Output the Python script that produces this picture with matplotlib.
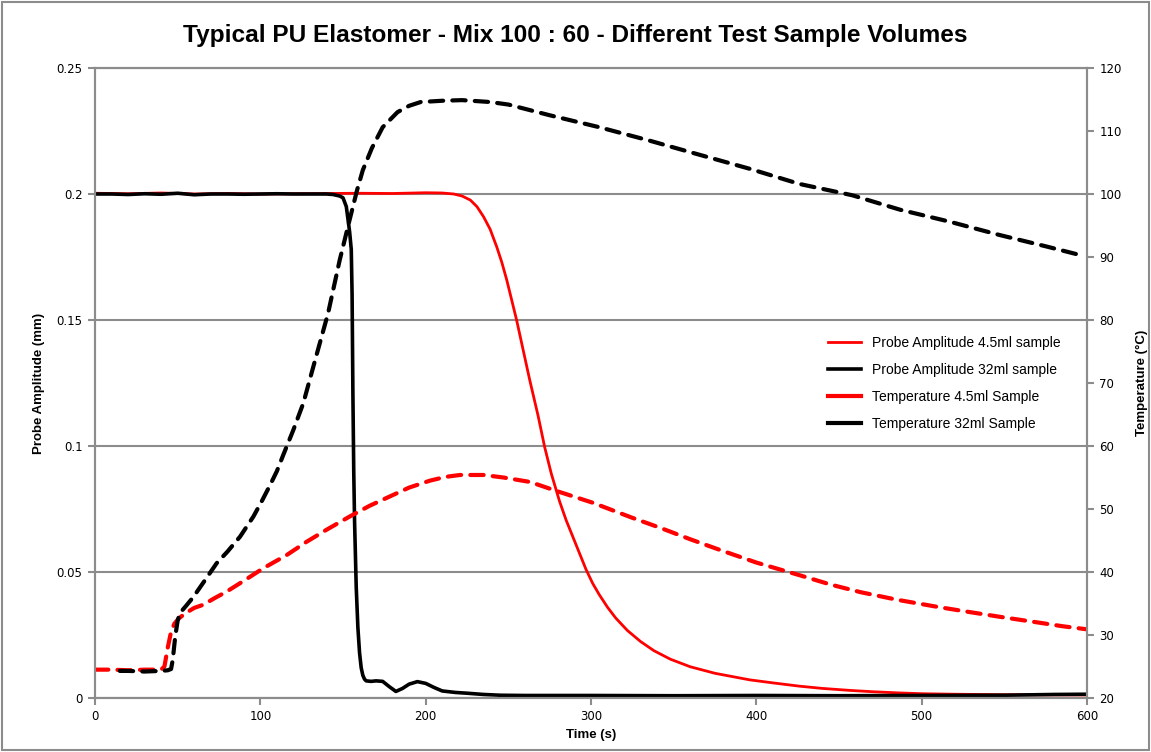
import numpy as np
import matplotlib.pyplot as plt
from matplotlib.patches import Rectangle

# probe amplitude, 4.5 ml sample
t_amp_small = [0, 20, 40, 60, 80, 100, 120, 140, 160, 180, 200, 210, 217, 222, 227, 231, 235,
               239, 243, 246, 249, 252, 255, 259, 263, 268, 272, 276, 281, 285, 289, 293, 297,
               301, 305, 310, 315, 322, 330, 338, 348, 360, 375, 396, 410, 426, 440, 457, 470,
               487, 500, 520, 550, 600]
amp_small = [0.2003, 0.2001, 0.2004, 0.2, 0.2002, 0.2, 0.2001, 0.2002, 0.2003, 0.2002, 0.2005,
             0.2004, 0.2, 0.1992, 0.1976, 0.195, 0.191, 0.186, 0.179, 0.173, 0.166, 0.158, 0.150,
             0.138, 0.126, 0.112, 0.0995, 0.089, 0.078, 0.0705, 0.064, 0.0575, 0.051,
             0.0455, 0.041, 0.036, 0.0317, 0.0268, 0.0224, 0.0188, 0.0154, 0.0124, 0.0098, 0.0072,
             0.006, 0.0047, 0.0038, 0.003, 0.0025, 0.002, 0.0017, 0.0015, 0.0013, 0.0012]

# probe amplitude, 32 ml sample
t_amp_big = [0, 10, 20, 30, 40, 50, 60, 70, 80, 90, 100, 110, 120, 130, 140, 144, 148, 150, 152,
             154, 155, 155.5, 156, 156.5, 157, 158, 159, 160, 161, 162, 163, 164, 167, 170, 174,
             178, 182, 186, 190, 195, 200, 205, 210, 218, 225, 235, 245, 260, 300, 350, 400, 450,
             500, 550, 580, 600]
amp_big = [0.2, 0.2, 0.1998, 0.2001, 0.1999, 0.2003, 0.1997, 0.2, 0.2, 0.1999, 0.2, 0.2001, 0.2,
           0.2, 0.2, 0.1998, 0.1992, 0.1985, 0.195, 0.185, 0.178, 0.16, 0.12, 0.09, 0.07, 0.044,
           0.028, 0.018, 0.012, 0.009, 0.0075, 0.0068, 0.0066, 0.0068, 0.0066, 0.0045, 0.0026,
           0.0038, 0.0055, 0.0065, 0.0058, 0.0042, 0.0028, 0.0022, 0.0019, 0.0014, 0.0011, 0.001,
           0.001, 0.0009, 0.001, 0.0009, 0.001, 0.0011, 0.0014, 0.0015]

# temperature, 4.5 ml sample
t_temp_small = [0, 10, 20, 30, 40, 42, 44, 46, 48, 51, 55, 60, 65.5, 72, 79.7, 90, 101.8, 116, 128,
                140, 154, 166, 178.4, 190, 202.6, 212, 220.8, 235, 247, 263, 281, 301, 325, 342,
                360, 378, 400, 426, 445, 463, 485, 511, 530, 547, 570, 585, 600]
temp_small = [24.5, 24.5, 24.4, 24.5, 24.5, 25, 28, 30.5, 31.8, 32.7, 33.5, 34.3, 34.8, 35.8, 36.9,
              38.6, 40.6, 42.7, 44.8, 46.7, 48.8, 50.5, 52, 53.4, 54.5, 55.1, 55.4, 55.4, 55, 54.3,
              52.7, 51, 48.6, 47, 45.2, 43.5, 41.5, 39.5, 38.0, 36.8, 35.6, 34.4, 33.6, 32.9, 32.0,
              31.4, 30.9]

# temperature, 32 ml sample
t_temp_big = [15, 20, 30, 40, 44, 46, 47, 48.5, 50, 51.4, 55, 59.4, 66, 73.6, 80, 87.7, 95.8, 101,
              105.9, 110, 113.9, 119.9, 126, 133, 141, 148, 154, 158.5, 162, 167.5, 174, 183, 190,
              197, 210, 222, 239, 250, 275, 305, 335, 366, 396, 426, 458, 487, 517, 547, 575, 596]
temp_big = [24.3, 24.3, 24.2, 24.3, 24.4, 24.6, 26, 29.7, 32.3, 33.5, 34.6, 36, 38.5, 41.4, 43.2,
            45.6, 48.8, 51.3, 53.8, 56, 58.6, 62.5, 66.8, 73.5, 81.1, 89.5, 95.9, 100.6, 103.8,
            107.3, 110.6, 113, 114, 114.6, 114.8, 114.9, 114.6, 114.2, 112.5, 110.6, 108.5, 106.2,
            104.0, 101.6, 99.8, 97.5, 95.6, 93.5, 91.7, 90.3]

left_ticks = [0, 0.05, 0.1, 0.15, 0.2, 0.25]
left_labels = ['0', '0.05', '0.1', '0.15', '0.2', '0.25']
right_ticks = [20, 30, 40, 50, 60, 70, 80, 90, 100, 110, 120]
x_ticks = [0, 100, 200, 300, 400, 500, 600]

grey = '#8c8c8c'
tick_font = ['DejaVu Sans']
label_font = ['Liberation Sans Narrow', 'Liberation Sans', 'DejaVu Sans']

fig = plt.figure(figsize=(11.51, 7.52), dpi=100)
ax = fig.add_axes([95 / 1151, 1 - 698 / 752, (1087 - 95) / 1151, (698 - 68) / 752])
ax2 = ax.twinx()

for a in (ax, ax2):
    for s in a.spines.values():
        s.set_color(grey)
        s.set_linewidth(1.5)

ax.set_xlim(0, 600)
ax.set_ylim(0, 0.25)
ax2.set_ylim(20, 120)
ax.set_xticks(x_ticks)
ax.set_yticks(left_ticks)
ax.set_yticklabels(left_labels)
ax2.set_yticks(right_ticks)
ax.yaxis.grid(True, color=grey, linewidth=1.5)
ax.set_axisbelow(True)

ax.tick_params(axis='both', colors=grey, length=5, width=1.5, labelcolor='black', labelsize=8.5, pad=4)
ax2.tick_params(axis='y', colors=grey, length=5, width=1.5, labelcolor='black', labelsize=8.5, pad=4)
for lab in ax.get_xticklabels() + ax.get_yticklabels() + ax2.get_yticklabels():
    lab.set_family(tick_font)

l1, = ax.plot(t_amp_small, amp_small, color='#ff0000', lw=2.0, label='Probe Amplitude 4.5ml sample')
l2, = ax.plot(t_amp_big, amp_big, color='black', lw=2.6, label='Probe Amplitude 32ml sample')
l3, = ax2.plot(t_temp_small, temp_small, color='#ff0000', lw=3.0, dashes=(3.2, 2.2),
               dash_capstyle='round', label='Temperature 4.5ml Sample')
l4, = ax2.plot(t_temp_big, temp_big, color='black', lw=3.0, dashes=(3.2, 2.2),
               dash_capstyle='round', label='Temperature 32ml Sample')

ax.set_xlabel('Time (s)', family=label_font, fontweight='bold', fontsize=9.5, labelpad=4)
ax.set_ylabel('Probe Amplitude (mm)', family=label_font, fontweight='bold', fontsize=9.5, labelpad=8)
ax2.set_ylabel('Temperature (°C)', family=label_font, fontweight='bold', fontsize=9.5, labelpad=10)

fig.suptitle('Typical PU Elastomer - Mix 100 : 60 - Different Test Sample Volumes',
             family=label_font, fontweight='bold', fontsize=17.6, y=0.968)

leg = ax2.legend(handles=[l1, l2, l3, l4], loc='upper left', bbox_to_anchor=(815 / 1151, 1 - 323 / 752),
                 bbox_transform=fig.transFigure, frameon=False, handlelength=2.4,
                 prop={'family': label_font, 'size': 10}, labelspacing=0.95)
for h in leg.get_lines():
    h.set_linestyle('-')

fig.patches.append(Rectangle((0.002, 0.002), 0.996, 0.996, transform=fig.transFigure,
                             fill=False, edgecolor=grey, linewidth=1.5))

fig.savefig('out.png', dpi=100)
